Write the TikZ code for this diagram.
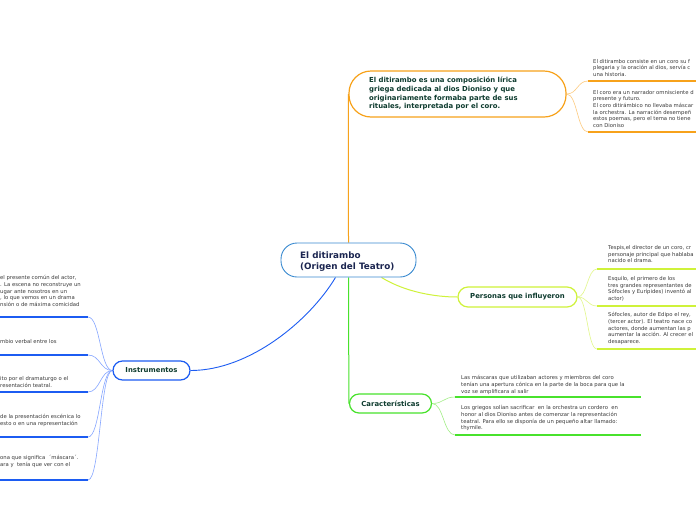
\documentclass[tikz,border=0pt]{standalone}
\usepackage{fontspec}
\setmainfont{DejaVu Sans}
\usetikzlibrary{calc}
\pgfdeclarelayer{bg}
\pgfsetlayers{bg,main}
\definecolor{orng}{HTML}{F7A21B}
\definecolor{orngl}{HTML}{FDCB80}
\definecolor{ygr}{HTML}{CFF23A}
\definecolor{ygrl}{HTML}{E2F78A}
\definecolor{grn}{HTML}{48E22C}
\definecolor{grnl}{HTML}{A2EE86}
\definecolor{blu}{HTML}{1C5CF2}
\definecolor{blul}{HTML}{86A6FF}
\definecolor{cblu}{HTML}{3A8AD0}
\definecolor{ntxt}{HTML}{0D3B2E}
\definecolor{ctxt}{HTML}{1B2550}
\definecolor{stxt}{HTML}{3A3A3A}
\newcommand\sbranch[3]{\draw[#1] let \p1=(#2), \p2=(#3) in (\p1) .. controls ({0.5*\x1+0.5*\x2},\y1) and ({0.5*\x1+0.5*\x2},\y2) .. (\p2);}
\begin{document}
\begin{tikzpicture}[x=1pt,y=-1pt,
  small/.style={font=\fontsize{5.3}{6.6}\selectfont, text=stxt, align=left, inner sep=0pt, anchor=north west},
  topic/.style={draw, fill=white, line width=1.2pt, inner sep=0pt},
  ttext/.style={font=\bfseries\fontsize{6.9}{8.7}\selectfont, text=ntxt, align=left, inner sep=0pt},
  uline/.style={line width=1.8pt},
  sub/.style={line width=0.6pt}]
\useasboundingbox (0,0) rectangle (696,520);

% central
\node[topic, draw=cblu, line width=0.9pt, minimum width=135pt, minimum height=34pt, rounded corners=16pt] (c) at (348.5,260) {};
\node[font=\bfseries\fontsize{8.8}{11}\selectfont, text=ctxt, align=left, inner sep=0pt, anchor=north west] (ct) at (300,251.5) {El ditirambo\\(Origen del Teatro)};

% top node
\node[topic, draw=orng, minimum width=217pt, minimum height=46pt, rounded corners=22pt] (top) at (457.5,94) {};
\node[ttext, anchor=north west] (topt) at (369,77) {El ditirambo es una composición lírica\\griega dedicada al dios Dioniso y que\\originariamente formaba parte de sus\\rituales, interpretada por el coro.};

% personas
\node[topic, draw=ygr, minimum width=119pt, minimum height=20pt, rounded corners=10pt] (per) at (517.5,297) {};
\node[ttext] (pert) at (517.5,297) {Personas que influyeron};

% caracteristicas
\node[topic, draw=grn, minimum width=82pt, minimum height=19pt, rounded corners=9.5pt] (car) at (390.5,403.5) {};
\node[ttext] (cart) at (390.5,403.5) {Características};

% instrumentos
\node[topic, draw=blu, minimum width=77pt, minimum height=19pt, rounded corners=9.5pt] (ins) at (151.5,370.5) {};
\node[ttext] (inst) at (151.5,370.5) {Instrumentos};

% underline coordinates
\coordinate (tr1) at (588,81);   \coordinate (tr1e) at (696,81);
\coordinate (tr2) at (588,132);  \coordinate (tr2e) at (696,132);
\coordinate (p1) at (597,269);   \coordinate (p1e) at (696,269);
\coordinate (p2) at (597,306);   \coordinate (p2e) at (696,306);
\coordinate (p3) at (597,349);   \coordinate (p3e) at (696,349);
\coordinate (ch1) at (455,397);  \coordinate (ch1e) at (641,397);
\coordinate (ch2) at (455,435);  \coordinate (ch2e) at (641,435);
\coordinate (in1) at (88,317);   \coordinate (in1e) at (0,317);
\coordinate (in2) at (88,355);   \coordinate (in2e) at (0,355);
\coordinate (in3) at (88,392);   \coordinate (in3e) at (0,392);
\coordinate (in4) at (88,437);   \coordinate (in4e) at (0,437);
\coordinate (in5) at (88,480);   \coordinate (in5e) at (0,480);

\begin{pgfonlayer}{bg}
\fill[white] (0,0) rectangle (696,520);
% main connectors
\draw[orng, line width=1pt] (c.north) -- (top.west);
\draw[grn, line width=1pt] (c.south) -- (car.west);
\draw[blu, line width=0.9pt] ([xshift=-13pt]c.south) .. controls (310,320) and (250,370.5) .. (ins.east);
\draw[ygr, line width=1pt] ([xshift=33pt]c.south) .. controls (405,292) and (435,297) .. (per.west);
% sub connectors
\sbranch{orngl,sub}{top.east}{tr1}
\sbranch{orngl,sub}{top.east}{tr2}
\sbranch{ygrl,sub}{per.east}{p1}
\sbranch{ygrl,sub}{per.east}{p2}
\sbranch{ygrl,sub}{per.east}{p3}
\sbranch{grnl,sub}{car.east}{ch1}
\sbranch{grnl,sub}{car.east}{ch2}
\sbranch{blul,sub}{ins.west}{in1}
\sbranch{blul,sub}{ins.west}{in2}
\sbranch{blul,sub}{ins.west}{in3}
\sbranch{blul,sub}{ins.west}{in4}
\sbranch{blul,sub}{ins.west}{in5}
\end{pgfonlayer}

% underlines
\draw[orng, uline] (tr1) -- (tr1e);
\draw[orng, uline] (tr2) -- (tr2e);
\draw[ygr, uline] (p1) -- (p1e);
\draw[ygr, uline] (p2) -- (p2e);
\draw[ygr, uline] (p3) -- (p3e);
\draw[grn, uline] (ch1) -- (ch1e);
\draw[grn, uline] (ch2) -- (ch2e);
\draw[blu, uline] (in1) -- (in1e);
\draw[blu, uline] (in2) -- (in2e);
\draw[blu, uline] (in3) -- (in3e);
\draw[blu, uline] (in4) -- (in4e);
\draw[blu, uline] (in5) -- (in5e);

% texts
\node[small] (tx1) at (593,59) {El ditirambo consiste en un coro su f\\plegaria y la oración al dios, servía c\\una historia.};
\node[small] (tx2) at (593,90) {El coro era un narrador omnisciente d\\presente y futuro.\\El coro ditirámbico no llevaba máscar\\la orchestra. La narración desempeñ\\estos poemas, pero el tema no tiene\\con Dioniso};
\node[small] (px1) at (608,245.5) {Tespis,el director de un coro, cr\\personaje principal que hablaba\\nacido el drama.};
\node[small] (px2) at (608,276.5) {Esquilo, el primero de los\\tres grandes representantes de\\Sófocles y Eurípides) inventó al\\actor)};
\node[small] (px3) at (608,312.5) {Sófocles, autor de Edipo el rey,\\(tercer actor). El teatro nace co\\actores, donde aumentan las p\\aumentar la acción. Al crecer el\\desaparece.};
\node[small] (cx1) at (461,375.5) {Las máscaras que utilizaban actores y miembros del coro\\tenían una apertura cónica en la parte de la boca para que la\\voz se amplificara al salir};
\node[small] (cx2) at (461,405.5) {Los griegos solían sacrificar~ en la orchestra un cordero~ en\\honor al dios Dioniso antes de comenzar la representación\\teatral. Para ello se disponía de un pequeño altar llamado:\\thymile.};
\node[small] (ix1) at (0,275.5) {el presente común del actor,\\. La escena no reconstruye un\\ugar ante nosotros en un\\, lo que vemos en un drama\\nsión o de máxima comicidad};
\node[small] (ix2) at (0,339.5) {mbio verbal entre los};
\node[small] (ix3) at (0,376.5) {ito por el dramaturgo o el\\resentación teatral.};
\node[small] (ix4) at (0,414.5) {de la presentación escénica lo\\esto o en una representación};
\node[small] (ix5) at (0,455.5) {ona que significa~ ´máscara´.\\ara y~ tenía que ver con el};
\end{tikzpicture}
\end{document}
